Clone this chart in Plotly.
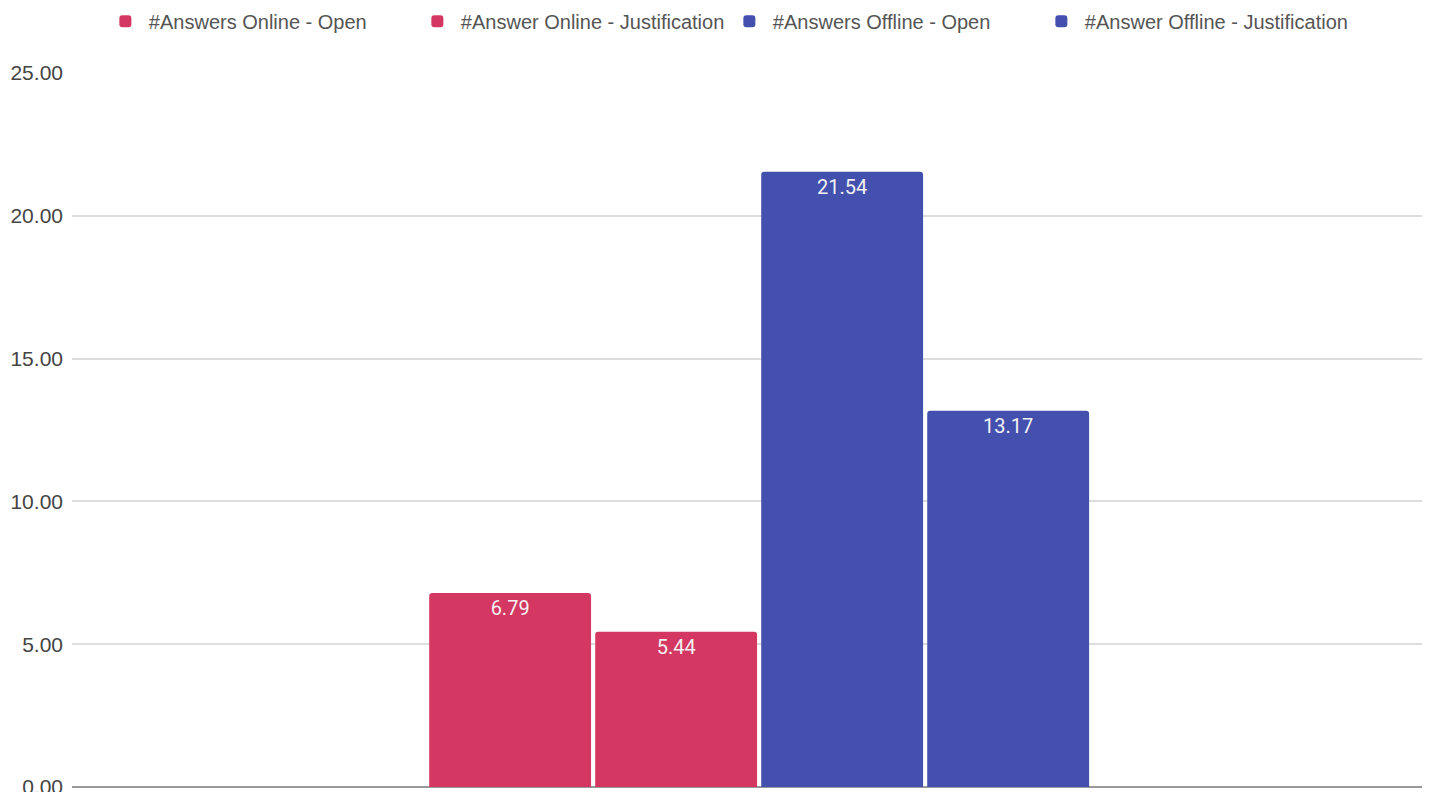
import plotly.graph_objects as go

category = [""]
series_names = ["#Answers Online - Open", "#Answer Online - Justification",
                "#Answers Offline - Open", "#Answer Offline - Justification"]
values = [6.79, 5.44, 21.54, 13.17]
colors = ["#d43862", "#d43862", "#4350ae", "#4350ae"]
y_ticks = [0, 5, 10, 15, 20, 25]

fig = go.Figure()
for name, v, c in zip(series_names, values, colors):
    fig.add_trace(go.Bar(
        x=category, y=[v], name=name,
        marker=dict(color=c, cornerradius=3, line=dict(width=0)),
        texttemplate="%{y:.2f}", textposition="inside", insidetextanchor="end",
        textfont=dict(color="#f2f2f2", size=20, family="Roboto"),
        textangle=0,
    ))

# page body has an 8px margin, so the figure is sized to fit the remaining window
fig.update_layout(
    width=1422, height=784,
    margin=dict(l=64, r=0, t=65, b=5, autoexpand=False),
    paper_bgcolor="white", plot_bgcolor="white",
    barmode="group", bargap=0.511, bargroupgap=0.025,
    font=dict(family="Arial", size=20, color="#444"),
    legend=dict(orientation="h", x=0.066, xanchor="left", xref="container",
                y=0.983, yanchor="middle", yref="container",
                font=dict(size=20, color="#555", family="Arial"),
                itemwidth=37, entrywidth=260, entrywidthmode="pixels",
                tracegroupgap=0),
    showlegend=True,
    xaxis=dict(showticklabels=False, showgrid=False, zeroline=False, showline=False,
               automargin=False, range=[-0.506, 0.494]),
    yaxis=dict(range=[0, 25], tickvals=y_ticks, tickformat=".2f",
               gridcolor="#dddddd", gridwidth=1.5, zeroline=True, zerolinecolor="#999",
               zerolinewidth=2, ticks="", ticklabelstandoff=8, showline=False,
               ticklabeloverflow="allow",
               automargin=False, tickfont=dict(size=21, color="#444", family="Arial")),
    uniformtext=dict(mode=False),
)
fig.write_html("out.html")
